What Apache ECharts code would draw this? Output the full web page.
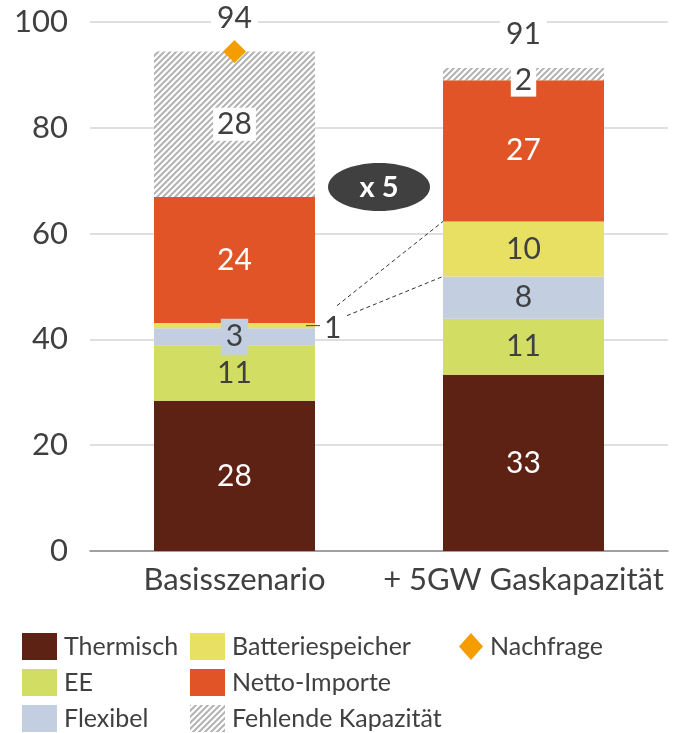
<!DOCTYPE html>
<html>
<head>
<meta charset="utf-8">
<script src="https://cdn.jsdelivr.net/npm/echarts@6/dist/echarts.min.js"></script>
<style>
  html, body { margin: 0; padding: 0; background: #fff; }
  #chart { width: 678px; height: 733px; }
</style>
</head>
<body>
<div id="chart"></div>
<script>
// chart data
var categories = ["Basisszenario", "+ 5GW Gaskapazität"];
var thermisch = [28.4, 33.3];
var ee = [10.5, 10.6];
var flexibel = [3.2, 8.0];
var batterie = [1.0, 10.4];
var netto = [23.8, 26.7];
var fehlend = [27.5, 2.3];
var nachfrage = [94.4, 91.3];
var yTicks = [0, 20, 40, 60, 80, 100];

var textColor = "#404040";
var font = "Lato";
var barWidth = 161;

function hatch() {
  var c = document.createElement("canvas");
  c.width = 6;
  c.height = 6;
  var g = c.getContext("2d");
  g.fillStyle = "#fff";
  g.fillRect(0, 0, 6, 6);
  g.strokeStyle = "#b3b3b3";
  g.lineWidth = 2;
  g.beginPath();
  g.moveTo(0, 6); g.lineTo(6, 0);
  g.moveTo(-3, 3); g.lineTo(3, -3);
  g.moveTo(3, 9); g.lineTo(9, 3);
  g.stroke();
  return c;
}

function seg(name, data, color, labelColor) {
  return {
    name: name,
    type: "bar",
    stack: "total",
    barWidth: barWidth,
    data: data,
    itemStyle: { color: color },
    label: {
      show: true,
      position: "inside",
      color: labelColor,
      fontSize: 30,
      fontFamily: font,
      formatter: function(p) { return Math.round(p.value); }
    }
  };
}

var legendBase = {
  orient: "vertical",
  top: 633,
  height: 140,
  itemWidth: 35,
  itemHeight: 27,
  itemGap: 9,
  padding: 0,
  icon: "rect",
  textStyle: { fontSize: 25, color: textColor, fontFamily: font, padding: [0, 0, 0, 2] }
};

var chart = echarts.init(document.getElementById("chart"));

var option = {
  animation: false,
  textStyle: { fontFamily: font },
  grid: { left: 90, right: 10, top: 22, bottom: 182 },
  legend: [
    Object.assign({}, legendBase, { data: ["Thermisch", "EE", "Flexibel"], left: 22 }),
    Object.assign({}, legendBase, { data: ["Batteriespeicher", "Netto-Importe", "Fehlende Kapazität"], left: 190 }),
    Object.assign({}, legendBase, { data: ["Nachfrage"], left: 459, itemWidth: 24, icon: "diamond" })
  ],
  xAxis: {
    type: "category",
    data: categories,
    axisTick: { show: false },
    axisLine: { lineStyle: { color: "#8c8c8c", width: 1.5 } },
    axisLabel: { fontSize: 31, color: textColor, fontFamily: font, margin: 13, interval: 0 }
  },
  yAxis: {
    type: "value",
    min: yTicks[0],
    max: yTicks[yTicks.length - 1],
    interval: yTicks[1] - yTicks[0],
    axisLine: { show: false },
    axisTick: { show: false },
    splitLine: { lineStyle: { color: "#d4d4d4", width: 1.5 } },
    axisLabel: { fontSize: 31, color: textColor, fontFamily: font, margin: 22 }
  },
  series: [
    seg("Thermisch", thermisch, "#5e2214", "#fff"),
    seg("EE", ee, "#d2dd64", textColor),
    seg("Flexibel", flexibel.map(function(v, i) {
      if (i === 0) {
        return { value: v, label: { backgroundColor: "#c3cfe0", padding: [4, 5, 2, 5] } };
      }
      return v;
    }), "#c3cfe0", textColor),
    seg("Batteriespeicher", batterie.map(function(v, i) {
      if (i === 0) {
        return { value: v, label: { position: "right", distance: 9, offset: [0, 3] } };
      }
      return v;
    }), "#e8e062", textColor),
    seg("Netto-Importe", netto, "#e05428", "#fff"),
    (function() {
      var s = seg("Fehlende Kapazität", fehlend, { image: hatch(), repeat: "repeat" }, textColor);
      s.label.backgroundColor = "#fff";
      s.label.padding = [3, 4, 0, 4];
      s.data = fehlend.map(function(v, i) {
        if (i === 1) return { value: v, label: { offset: [0, 6] } };
        return v;
      });
      return s;
    })(),
    {
      name: "Nachfrage",
      type: "scatter",
      symbol: "diamond",
      symbolSize: 23,
      itemStyle: { color: "#f59c00", opacity: 1 },
      z: 5,
      data: nachfrage.map(function(v, i) {
        if (i === 1) return { value: v, itemStyle: { color: "rgba(0,0,0,0)" } };
        return v;
      }),
      label: {
        show: true,
        position: "top",
        distance: 7,
        color: textColor,
        fontSize: 30,
        fontFamily: font,
        backgroundColor: "#fff",
        padding: [0, 6, 0, 6],
        formatter: function(p) { return Math.round(p.value); }
      }
    }
  ]
};

chart.setOption(option);

// annotations: leader line for the small segment, dashed connectors, x 5 badge
function cum(i, n) {
  var arrs = [thermisch, ee, flexibel, batterie, netto, fehlend];
  var s = 0;
  for (var k = 0; k < n; k++) s += arrs[k][i];
  return s;
}

var batMid = chart.convertToPixel({ gridIndex: 0 }, [0, cum(0, 3) + batterie[0] / 2]);
var bar2Top = chart.convertToPixel({ gridIndex: 0 }, [1, cum(1, 4)]);
var bar2Bot = chart.convertToPixel({ gridIndex: 0 }, [1, cum(1, 3)]);
var right1 = batMid[0] + barWidth / 2;
var left2 = bar2Top[0] - barWidth / 2;

var dashed = { stroke: "#333", lineWidth: 1, lineDash: [4, 3] };

chart.setOption({
  graphic: [
    {
      type: "line",
      shape: { x1: right1 - 9, y1: batMid[1], x2: right1 + 5, y2: batMid[1] },
      style: { stroke: "#404040", lineWidth: 1 },
      z: 10
    },
    {
      type: "line",
      shape: { x1: right1 + 22, y1: batMid[1] - 20, x2: left2, y2: bar2Top[1] },
      style: dashed,
      z: 10
    },
    {
      type: "line",
      shape: { x1: right1 + 32, y1: batMid[1] - 10, x2: left2, y2: bar2Bot[1] },
      style: dashed,
      z: 10
    },
    {
      type: "ellipse",
      shape: { cx: 379, cy: 187, rx: 51, ry: 24 },
      style: { fill: "#404040" },
      z: 10
    },
    {
      type: "text",
      x: 379,
      y: 188,
      z: 11,
      style: {
        text: "x 5",
        fill: "#fff",
        font: "bold 29px Lato",
        align: "center",
        verticalAlign: "middle"
      }
    }
  ]
});
</script>
</body>
</html>
